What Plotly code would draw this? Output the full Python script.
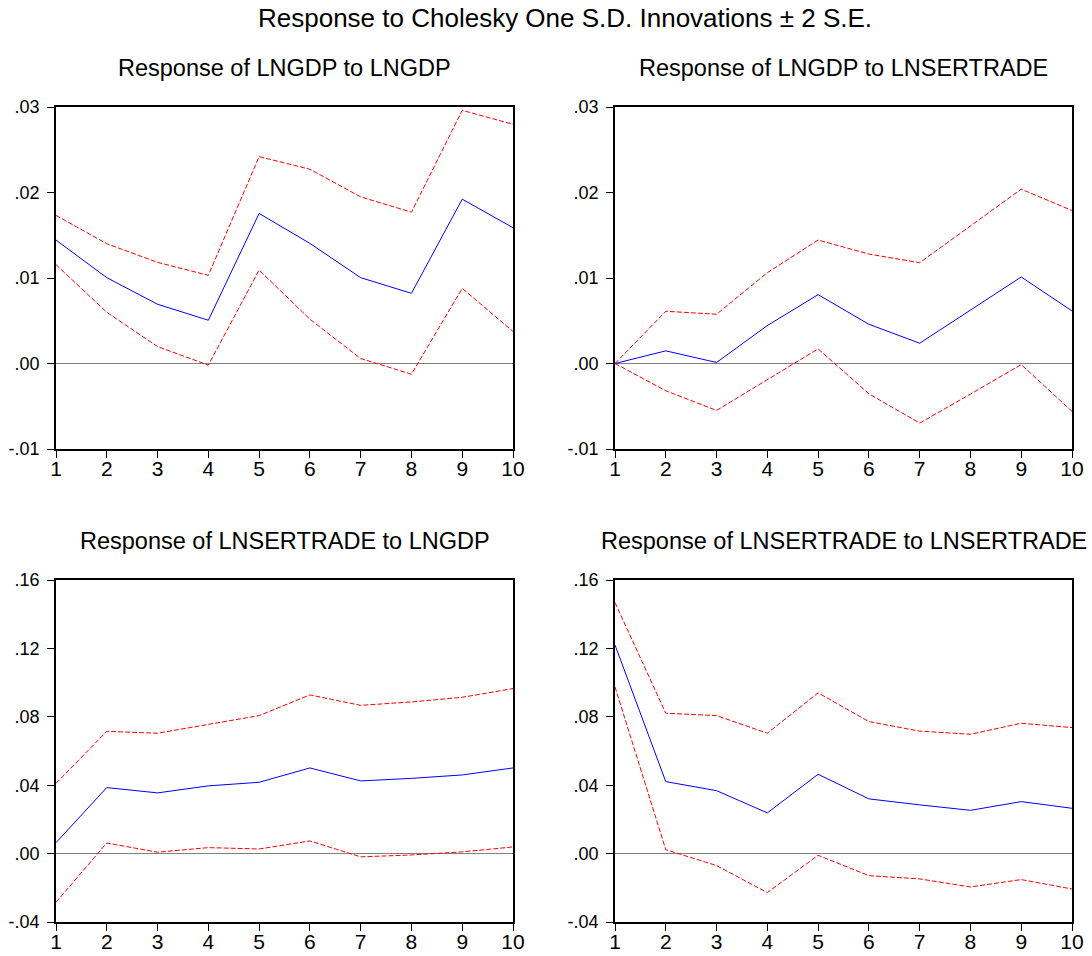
import plotly.graph_objects as go

periods = [1, 2, 3, 4, 5, 6, 7, 8, 9, 10]

# Response of LNGDP to LNGDP
gdp_gdp = [0.01444, 0.01004, 0.00693, 0.00506, 0.01755, 0.01405, 0.01004, 0.00821, 0.01922, 0.01588]
gdp_gdp_up = [0.01732, 0.01401, 0.01183, 0.01031, 0.0242, 0.02272, 0.01949, 0.0177, 0.02961, 0.02798]
gdp_gdp_lo = [0.01156, 0.00599, 0.00198, -0.00019, 0.01093, 0.00518, 0.00058, -0.00125, 0.00879, 0.00374]

# Response of LNGDP to LNSERTRADE
gdp_ser = [0.0, 0.00148, 0.00012, 0.00444, 0.00805, 0.00459, 0.00237, 0.00626, 0.01012, 0.00615]
gdp_ser_up = [0.0, 0.00611, 0.00576, 0.01062, 0.01444, 0.0128, 0.01179, 0.01607, 0.02039, 0.0179]
gdp_ser_lo = [0.0, -0.00319, -0.00549, -0.00191, 0.00171, -0.00354, -0.00697, -0.00358, -0.00012, -0.0056]

# Response of LNSERTRADE to LNGDP
ser_gdp = [0.0064, 0.0386, 0.0355, 0.0396, 0.0417, 0.0501, 0.0425, 0.0440, 0.0460, 0.0501]
ser_gdp_up = [0.0411, 0.0715, 0.0704, 0.0756, 0.0807, 0.0928, 0.0867, 0.0887, 0.0914, 0.0965]
ser_gdp_lo = [-0.0285, 0.0062, 0.0008, 0.0035, 0.0027, 0.0074, -0.0019, -0.0008, 0.0010, 0.0039]

# Response of LNSERTRADE to LNSERTRADE
ser_ser = [0.1220, 0.0421, 0.0368, 0.0238, 0.0464, 0.0320, 0.0285, 0.0253, 0.0304, 0.0265]
ser_ser_up = [0.1468, 0.0821, 0.0807, 0.0704, 0.0940, 0.0772, 0.0716, 0.0698, 0.0762, 0.0737]
ser_ser_lo = [0.0975, 0.0023, -0.0070, -0.0228, -0.0010, -0.0129, -0.0148, -0.0195, -0.0152, -0.0207]

titles = ["Response of LNGDP to LNGDP", "Response of LNGDP to LNSERTRADE",
          "Response of LNSERTRADE to LNGDP", "Response of LNSERTRADE to LNSERTRADE"]
main_title = "Response to Cholesky One S.D. Innovations \u00b1 2 S.E."

top_ticks = [-0.01, 0.0, 0.01, 0.02, 0.03]
top_ticktext = ["-.01", ".00", ".01", ".02", ".03"]
bot_ticks = [-0.04, 0.0, 0.04, 0.08, 0.12, 0.16]
bot_ticktext = ["-.04", ".00", ".04", ".08", ".12", ".16"]

W, H = 1092, 956
FONT = "Liberation Sans, Arial, sans-serif"

panels = [
    dict(x0=56, x1=513, y0=107, y1=449, data=(gdp_gdp, gdp_gdp_up, gdp_gdp_lo), ticks=(top_ticks, top_ticktext)),
    dict(x0=615, x1=1072, y0=107, y1=449, data=(gdp_ser, gdp_ser_up, gdp_ser_lo), ticks=(top_ticks, top_ticktext)),
    dict(x0=56, x1=513, y0=580, y1=922, data=(ser_gdp, ser_gdp_up, ser_gdp_lo), ticks=(bot_ticks, bot_ticktext)),
    dict(x0=615, x1=1072, y0=580, y1=922, data=(ser_ser, ser_ser_up, ser_ser_lo), ticks=(bot_ticks, bot_ticktext)),
]

fig = go.Figure()
layout = dict(
    width=W, height=H, margin=dict(l=0, r=0, t=0, b=0, autoexpand=False),
    paper_bgcolor="white", plot_bgcolor="white", showlegend=False,
    font=dict(family=FONT, color="black", size=19),
)
annotations = [dict(text=main_title, x=565 / W, y=1 - 18 / H, xref="paper", yref="paper",
                    showarrow=False, xanchor="center", yanchor="middle",
                    font=dict(size=26, family=FONT, color="black"))]

for i, p in enumerate(panels):
    n = "" if i == 0 else str(i + 1)
    xa, ya = "x" + n, "y" + n
    mid, up, lo = p["data"]
    tv, tt = p["ticks"]
    fig.add_trace(go.Scatter(x=periods, y=up, mode="lines", xaxis=xa, yaxis=ya,
                             line=dict(color="#ff0000", width=1, dash="5px,2px")))
    fig.add_trace(go.Scatter(x=periods, y=lo, mode="lines", xaxis=xa, yaxis=ya,
                             line=dict(color="#ff0000", width=1, dash="5px,2px")))
    fig.add_trace(go.Scatter(x=periods, y=mid, mode="lines", xaxis=xa, yaxis=ya,
                             line=dict(color="#0000ff", width=1)))
    layout["xaxis" + n] = dict(
        domain=[p["x0"] / W, p["x1"] / W], range=[1, 10], anchor=ya, automargin=False,
        tickvals=periods, ticktext=[str(v) for v in periods],
        showgrid=False, zeroline=False, showline=True, linecolor="black", linewidth=1.5,
        mirror=True, ticks="outside", ticklen=7, tickcolor="black", tickwidth=1,
        ticklabelstandoff=-7,
        tickfont=dict(size=21, family=FONT, color="black"),
    )
    layout["yaxis" + n] = dict(
        domain=[1 - p["y1"] / H, 1 - p["y0"] / H], range=[tv[0], tv[-1]], anchor=xa, automargin=False,
        tickvals=tv, ticktext=tt,
        showgrid=False, zeroline=True, zerolinecolor="#808080", zerolinewidth=1,
        showline=True, linecolor="black", linewidth=1.5,
        mirror=True, ticks="outside", ticklen=7, tickcolor="black", tickwidth=1,
        ticklabelstandoff=4,
        tickfont=dict(size=18, family=FONT, color="black"),
    )
    annotations.append(dict(text=titles[i], x=(p["x0"] + p["x1"]) / 2 / W, y=1 - (p["y0"] - 39) / H,
                            xref="paper", yref="paper", showarrow=False,
                            xanchor="center", yanchor="middle",
                            font=dict(size=23.5, family=FONT, color="black")))

layout["annotations"] = annotations
fig.update_layout(**layout)
fig.write_html("out.html")
